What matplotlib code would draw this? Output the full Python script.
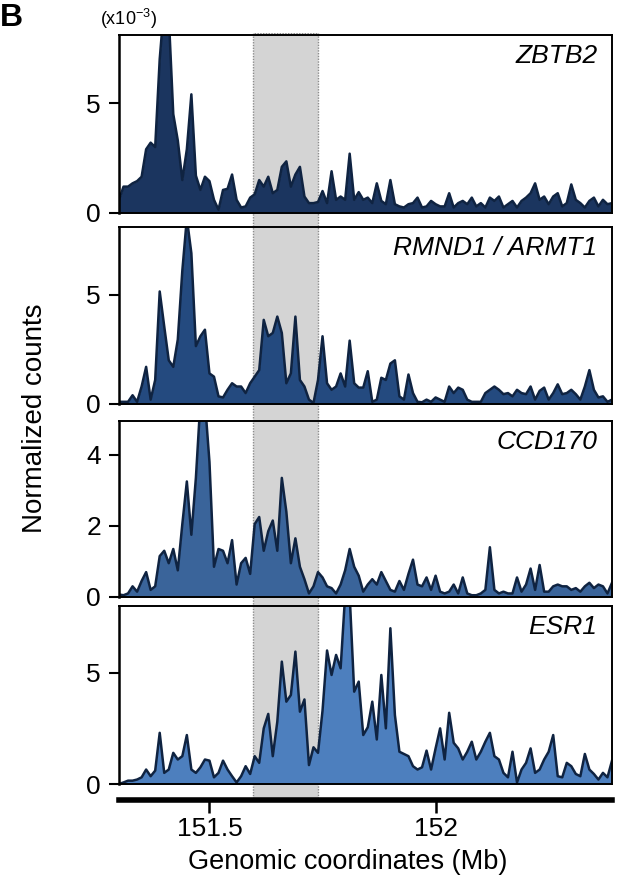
import numpy as np
import matplotlib
matplotlib.use("Agg")
import matplotlib.pyplot as plt

plt.rcParams['font.family'] = ['Liberation Sans', 'DejaVu Sans']

# genomic bins (Mb), 10 kb steps
start_mb = 151.30
bin_mb = 0.01

genes = ["ZBTB2", "RMND1 / ARMT1", "CCD170", "ESR1"]

zbtb2 = [0.6, 1.2, 1.2, 1.35, 1.45, 1.65, 2.9, 3.2, 3.0, 7.0,
         9.5, 9.0, 4.5, 3.3, 1.5, 2.9, 5.4, 1.7, 1.05, 1.65,
         1.45, 0.6, 0.15, 1.05, 1.1, 1.75, 0.6, 0.25, 0.3, 0.7,
         0.85, 1.5, 1.2, 1.65, 0.9, 1.05, 2.1, 2.35, 1.2, 1.75,
         2.1, 0.75, 0.45, 0.45, 0.5, 1.0, 0.45, 1.9, 0.6, 0.75,
         0.6, 2.7, 0.6, 0.95, 0.6, 0.7, 0.45, 1.35, 0.55, 0.4,
         1.5, 0.4, 0.3, 0.25, 0.4, 0.45, 0.7, 0.25, 0.3, 0.55,
         0.4, 0.3, 0.3, 0.9, 0.25, 0.45, 0.55, 0.4, 0.7, 0.3,
         0.45, 0.25, 0.7, 0.55, 0.75, 0.25, 0.4, 0.55, 0.25, 0.55,
         0.7, 0.9, 1.35, 0.6, 0.75, 0.4, 0.75, 0.9, 0.3, 0.45,
         1.3, 0.6, 0.45, 0.25, 0.55, 0.7, 0.3, 0.6, 0.4, 0.45]

rmnd1 = [0.1, 0.1, 0.1, 0.4, 0.1, 0.8, 1.7, 0.2, 1.1, 5.15,
         3.55, 2.0, 1.7, 2.95, 6.1, 8.5, 6.9, 2.65, 3.1, 3.4,
         1.4, 1.25, 0.35, 0.3, 0.65, 0.95, 0.8, 0.8, 0.5, 0.95,
         1.25, 1.55, 3.85, 3.1, 3.25, 4.0, 3.25, 0.95, 1.4, 4.0,
         1.1, 0.8, 0.2, 0.05, 1.1, 3.1, 0.95, 0.65, 0.8, 1.4,
         0.8, 2.9, 0.95, 0.75, 0.75, 1.5, 0.1, 0.2, 1.2, 1.1,
         1.85, 2.0, 0.35, 0.2, 1.35, 0.5, 0.1, 0.08, 0.2, 0.1,
         0.3, 0.2, 0.1, 0.8, 0.5, 0.75, 0.65, 0.2, 0.1, 0.1,
         0.1, 0.5, 0.65, 0.8, 0.65, 0.45, 0.5, 0.35, 0.65, 0.5,
         0.45, 0.8, 0.2, 0.6, 0.75, 0.2, 0.5, 0.9, 0.45, 0.5,
         0.65, 0.45, 0.2, 0.8, 1.55, 0.65, 0.3, 0.35, 0.1, 0.2]

ccd170 = [0.07, 0.05, 0.1, 0.3, 0.15, 0.45, 0.7, 0.2, 0.3, 1.15,
          1.3, 0.95, 1.35, 0.75, 2.05, 3.25, 1.75, 3.35, 5.5, 5.5,
          3.8, 0.85, 1.35, 1.3, 0.95, 1.6, 0.35, 0.95, 1.1, 0.65,
          2.05, 2.25, 1.3, 1.85, 2.15, 1.3, 3.35, 2.4, 0.95, 1.65,
          0.85, 0.5, 0.1, 0.3, 0.7, 0.55, 0.3, 0.25, 0.1, 0.35,
          0.75, 1.35, 0.85, 0.6, 0.15, 0.35, 0.5, 0.35, 0.7, 0.45,
          0.2, 0.15, 0.45, 0.2, 0.65, 1.05, 0.35, 0.3, 0.55, 0.2,
          0.6, 0.15, 0.1, 0.15, 0.35, 0.1, 0.55, 0.1, 0.05, 0.05,
          0.1, 0.2, 1.4, 0.2, 0.1, 0.15, 0.1, 0.1, 0.55, 0.15,
          0.35, 0.8, 0.2, 0.9, 0.15, 0.15, 0.3, 0.35, 0.3, 0.3,
          0.2, 0.25, 0.15, 0.3, 0.4, 0.25, 0.35, 0.3, 0.1, 0.4]

esr1 = [0.0, 0.07, 0.15, 0.15, 0.2, 0.3, 0.65, 0.35, 0.6, 2.3,
        0.5, 0.65, 1.4, 1.1, 1.25, 2.2, 0.65, 0.5, 0.75, 1.1,
        1.05, 0.3, 0.5, 1.05, 0.65, 0.35, 0.07, 0.35, 0.8, 0.45,
        1.25, 0.95, 2.5, 3.15, 1.25, 2.8, 5.5, 3.7, 4.0, 5.95,
        3.25, 3.8, 0.85, 1.65, 1.4, 3.3, 6.0, 4.9, 5.8, 5.2,
        8.5, 8.5, 4.15, 4.6, 2.2, 2.55, 3.7, 2.0, 4.9, 2.5,
        7.0, 3.1, 1.45, 1.35, 1.25, 0.8, 0.65, 0.75, 1.5, 0.65,
        1.6, 2.5, 1.1, 3.2, 1.85, 1.6, 1.1, 1.45, 1.9, 1.1,
        1.45, 1.9, 2.3, 1.25, 1.1, 0.5, 0.3, 1.45, 0.07, 0.65,
        0.95, 1.6, 0.5, 0.65, 1.1, 1.45, 2.2, 0.35, 0.3, 0.95,
        0.8, 0.45, 0.35, 1.35, 0.65, 0.45, 0.2, 0.5, 0.3, 1.05]

series = [zbtb2, rmnd1, ccd170, esr1]
ylims = [8.1, 8.1, 4.95, 8.0]
yticks = [[0, 5], [0, 5], [0, 2, 4], [0, 5]]
fills = ["#1b355f", "#244a7f", "#3a649a", "#4d7fbe"]
edge = "#0f2341"

xlim = (151.30, 152.39)
shade = (151.597, 151.741)

W, H = 621, 883
fig = plt.figure(figsize=(W / 100, H / 100), dpi=100)

left = 119 / W
width = 493 / W
panels = [(35, 213), (227, 404), (421, 597), (606, 784)]

# shaded region spanning all panels
bg = fig.add_axes([left, 1 - 800 / H, width, (800 - 33) / H], zorder=0)
bg.set_xlim(*xlim)
bg.set_ylim(0, 1)
bg.axvspan(shade[0], shade[1], facecolor="#d4d4d4", edgecolor="#8c8c8c",
           linestyle=(0, (1, 1)), linewidth=1.0)
bg.axis("off")

for k, (top, bot) in enumerate(panels):
    ax = fig.add_axes([left, 1 - bot / H, width, (bot - top) / H], zorder=2)
    ax.patch.set_alpha(0)
    y = np.array(series[k])
    x = start_mb + bin_mb * np.arange(len(y))
    ax.fill_between(x, y, color=fills[k], lw=0)
    ax.plot(x, y, color=edge, lw=1.8)
    ax.set_xlim(*xlim)
    ax.set_ylim(0, ylims[k])
    ax.set_yticks(yticks[k])
    ax.set_xticks([])
    for s in ax.spines.values():
        s.set_linewidth(1.4)
    ax.spines["left"].set_linewidth(1.8)
    ax.tick_params(axis="y", direction="out", length=7, width=1.5,
                   labelsize=19, pad=6)
    ax.text(0.97, 0.88, genes[k], transform=ax.transAxes, ha="right",
            va="center", fontsize=19, style="italic")

# genomic coordinate bar
bar = fig.add_axes([left, 1 - 800 / H, width, 0.0001], zorder=3)
bar.set_xlim(*xlim)
bar.set_yticks([])
for s in ["left", "right", "top"]:
    bar.spines[s].set_visible(False)
bar.spines["bottom"].set_linewidth(4)
bar.set_xticks([151.5, 152])
bar.set_xticklabels(["151.5", "152"])
bar.tick_params(axis="x", direction="out", length=9, width=1.8,
                labelsize=19, pad=3)
bar.patch.set_alpha(0)

fig.text(348 / W, 1 - 862 / H, "Genomic coordinates (Mb)", ha="center",
         va="center", fontsize=19.5)
fig.text(35 / W, 1 - 418 / H, "Normalized counts", rotation=90,
         ha="center", va="center", fontsize=20)
fig.text(128 / W, 1 - 19 / H, "(x10$^{\\mathregular{-3}}$)", ha="center",
         va="center", fontsize=13)
fig.text(0 / W, 1 - 18 / H, "B", ha="left", va="center", fontsize=23,
         fontweight="bold")

fig.savefig("out.png", dpi=100)
